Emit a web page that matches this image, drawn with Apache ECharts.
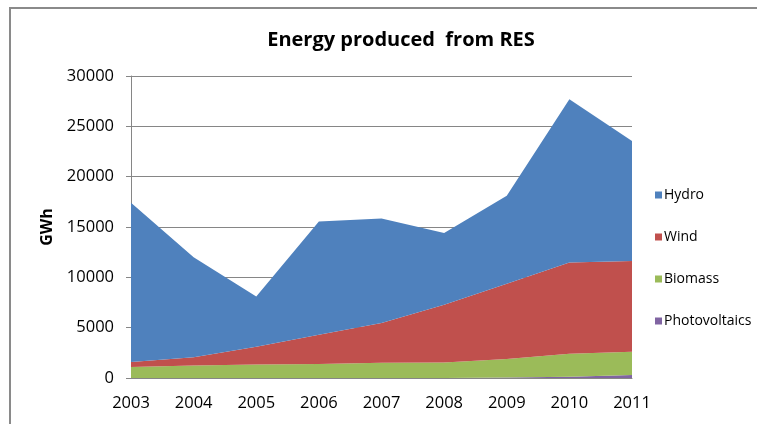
<!DOCTYPE html>
<html>
<head>
<meta charset="utf-8">
<script src="https://cdn.jsdelivr.net/npm/echarts@6/dist/echarts.min.js"></script>
<style>
html,body{margin:0;padding:0;background:#fff;}
#frame{position:absolute;left:9px;top:7px;width:748px;height:417px;border-top:2px solid #8a8a8a;border-left:2px solid #8a8a8a;}
#chart{position:absolute;left:0;top:0;width:757px;height:424px;}
</style>
</head>
<body>
<div id="frame"></div>
<div id="chart"></div>
<script>
var years = ['2003','2004','2005','2006','2007','2008','2009','2010','2011'];
var photovoltaics = [0, 0, 0, 0, 0, 10, 40, 130, 300];
var biomass = [1090, 1250, 1350, 1390, 1520, 1540, 1850, 2280, 2310];
var wind = [500, 800, 1750, 2910, 3940, 5730, 7470, 9070, 9010];
var hydro = [15810, 9950, 5000, 11250, 10390, 7120, 8740, 16220, 11930];
var legendOrder = ['Hydro', 'Wind', 'Biomass', 'Photovoltaics'];

var font = 'Open Sans';
function areaSeries(name, data, color) {
  return {
    name: name, type: 'line', stack: 'total', data: data,
    symbol: 'none', showSymbol: false,
    lineStyle: { width: 0 },
    itemStyle: { color: color },
    areaStyle: { color: color, opacity: 1 }
  };
}
var chart = echarts.init(document.getElementById('chart'), null, { renderer: 'canvas' });
chart.setOption({
  animation: false,
  backgroundColor: 'transparent',
  title: {
    text: 'Energy produced  from RES',
    left: 396, top: 25, textAlign: 'center',
    textStyle: { fontFamily: font, fontWeight: 'bold', fontSize: 20, color: '#000' }
  },
  legend: {
    data: legendOrder,
    orient: 'vertical', left: 650, top: 183,
    icon: 'rect', itemWidth: 7, itemHeight: 7, itemGap: 28,
    textStyle: { fontFamily: font, fontSize: 14, color: '#000', padding: [0, 0, 0, -3] }
  },
  grid: { left: 131, right: 125, top: 76, bottom: 46 },
  xAxis: {
    type: 'category', data: years, boundaryGap: false,
    axisLine: { lineStyle: { color: '#868686' } },
    axisTick: { show: false },
    axisLabel: { fontFamily: font, fontSize: 16.5, color: '#000', margin: 17 }
  },
  yAxis: {
    type: 'value', min: 0, max: 30000, interval: 5000,
    name: 'GWh', nameLocation: 'middle', nameGap: 76, nameRotate: 90,
    nameTextStyle: { fontFamily: font, fontWeight: 'bold', fontSize: 16, color: '#000' },
    axisLine: { show: true, lineStyle: { color: '#868686' } },
    axisTick: { show: true, length: 5, lineStyle: { color: '#868686' } },
    axisLabel: { fontFamily: font, fontSize: 16.5, color: '#000', margin: 17,
      formatter: function (v) { return String(v); } },
    splitLine: { lineStyle: { color: '#868686', width: 1 } }
  },
  series: [
    areaSeries('Photovoltaics', photovoltaics, '#8064A2'),
    areaSeries('Biomass', biomass, '#9BBB59'),
    areaSeries('Wind', wind, '#C0504D'),
    areaSeries('Hydro', hydro, '#4F81BD')
  ]
});
</script>
</body>
</html>
